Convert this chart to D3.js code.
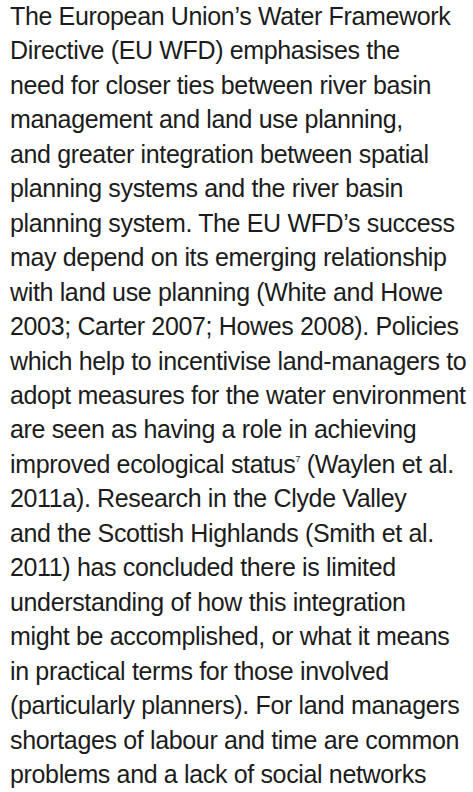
<!DOCTYPE html>
<html><head><meta charset="utf-8">
<script src="https://cdn.jsdelivr.net/npm/d3@7"></script>
<style>html,body{margin:0;padding:0;background:#fff;}svg{display:block;}</style>
</head><body>
<script>
const lines = [
"The European Union’s Water Framework",
"Directive (EU WFD) emphasises the",
"need for closer ties between river basin",
"management and land use planning,",
"and greater integration between spatial",
"planning systems and the river basin",
"planning system. The EU WFD’s success",
"may depend on its emerging relationship",
"with land use planning (White and Howe",
"2003; Carter 2007; Howes 2008). Policies",
"which help to incentivise land-managers to",
"adopt measures for the water environment",
"are seen as having a role in achieving",
"improved ecological status|7| (Waylen et al.",
"2011a). Research in the Clyde Valley",
"and the Scottish Highlands (Smith et al.",
"2011) has concluded there is limited",
"understanding of how this integration",
"might be accomplished, or what it means",
"in practical terms for those involved",
"(particularly planners). For land managers",
"shortages of labour and time are common",
"problems and a lack of social networks"
];
const W = 473, H = 792;
const svg = d3.select("body").append("svg").attr("width", W).attr("height", H);
const y = d3.scaleLinear().domain([0, lines.length - 1]).range([25, 783]);
const g = svg.append("g");
lines.forEach((ln, i) => {
  const t = g.append("text")
    .attr("x", 10).attr("y", y(i))
    .attr("font-family", "'Liberation Sans', Arial, sans-serif")
    .attr("font-size", 25)
    .attr("letter-spacing", -0.35)
    .attr("fill", "#1c1c1c");
  const parts = ln.split("|");
  parts.forEach((p, j) => {
    if (j % 2 === 1) {
      t.append("tspan").attr("font-size", 9).attr("dy", -11).text(p);
    } else {
      const s = t.append("tspan").text(p);
      if (j > 0) s.attr("dy", 11);
    }
  });
});
</script>
</body></html>
